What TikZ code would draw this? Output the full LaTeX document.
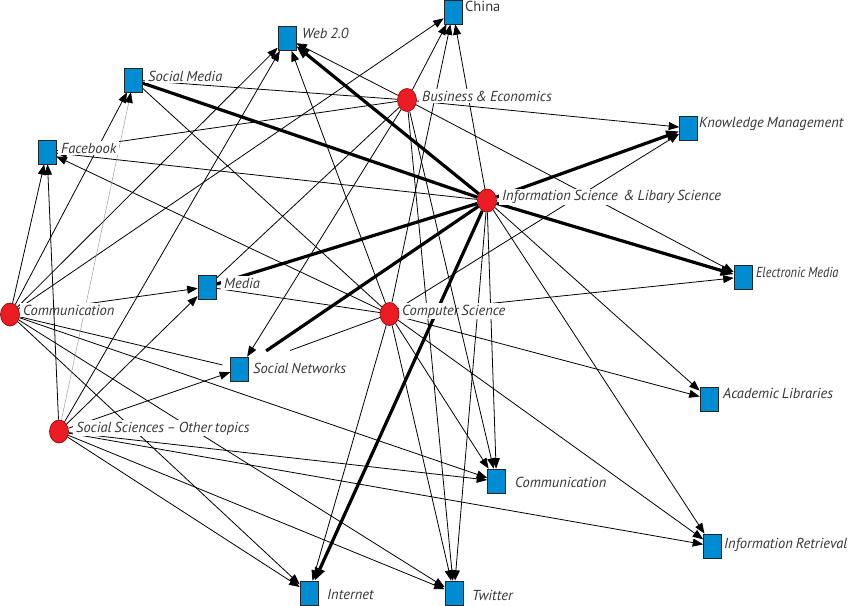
\documentclass[tikz,border=0pt]{standalone}
\usepackage{fontspec}
\setmainfont{PT Sans}
\usetikzlibrary{shapes.geometric,arrows.meta}
\definecolor{sqblue}{RGB}{0,140,210}
\definecolor{cired}{RGB}{236,28,36}
\definecolor{labgray}{RGB}{55,55,55}
\pgfdeclarelayer{bg}
\pgfdeclarelayer{lab}
\pgfsetlayers{bg,lab,main}
\newcommand{\labfont}{\fontsize{14.5}{16}\selectfont\itshape\spaceskip=0.2em plus 0.05em}
\tikzset{
  sq/.style={rectangle,draw=black!85,line width=0.6pt,fill=sqblue,minimum width=18pt,minimum height=24pt,inner sep=0pt},
  ci/.style={ellipse,draw=red!55!black,line width=0.6pt,fill=cired,minimum width=19pt,minimum height=23pt,inner sep=0pt},
  lab/.style={fill=white,inner xsep=3pt,inner ysep=1.5pt,anchor=base west,xshift=-3pt,font=\labfont,text=labgray},
  ln/.style={line width=0.8pt,-{Triangle[length=10.5pt,width=8pt]}},
  nl/.style={line width=0.8pt},
  gl/.style={line width=0.4pt,draw=black!45,-{Triangle[length=10.5pt,width=8pt,color=black]}},
  tk/.style={line width=3.2pt,-{Triangle[length=13pt,width=10pt]}},
  tkn/.style={line width=3.2pt},
}
\begin{document}
\begin{tikzpicture}[x=1pt,y=-1pt]
\useasboundingbox (0,0) rectangle (850,605);
\begin{pgfonlayer}{bg}
\fill[white] (0,0) rectangle (850,605);
\end{pgfonlayer}
% keyword squares
\node[sq] (China) at (453,12) {};
\node[sq] (Web) at (287,38.5) {};
\node[sq] (SMed) at (133.5,80) {};
\node[sq] (Fb) at (47,152) {};
\node[sq] (KM) at (688.5,128) {};
\node[sq] (EM) at (743,277) {};
\node[sq] (Media) at (207,287) {};
\node[sq] (SN) at (239.5,369) {};
\node[sq] (AL) at (709,399) {};
\node[sq] (CSq) at (496.5,481) {};
\node[sq] (IR) at (712.5,546) {};
\node[sq] (Inet) at (309,593) {};
\node[sq] (Tw) at (454,593) {};
% subject circles
\node[ci] (BE) at (407,100) {};
\node[ci] (IS) at (487,200.5) {};
\node[ci] (CS) at (389.5,314) {};
\node[ci] (Cc) at (10,314.5) {};
\node[ci] (SS) at (59,431.5) {};
\begin{pgfonlayer}{bg}
\foreach \s/\t in {Cc/China,Cc/Web,Cc/SMed,Cc/Fb,Cc/Media,Cc/CSq,Cc/Tw,Cc/Inet,
  SS/Web,SS/Media,SS/SN,SS/CSq,SS/IR,SS/Tw,SS/Inet,
  BE/China,BE/Web,BE/SN,BE/KM,BE/EM,BE/Tw,
  IS/China,IS/Fb,IS/AL,IS/CSq,IS/IR,IS/Tw,
  CS/China,CS/Web,CS/Fb,CS/KM,CS/EM,CS/AL,CS/CSq,CS/IR,CS/Tw,CS/Inet}
  \draw[ln] (\s) -- (\t);
\foreach \s/\t in {BE/SMed,BE/Fb,BE/Media,CS/Media,CS/SMed}
  \draw[nl] (\s) -- (\t);
\draw[nl,shorten >=44pt] (CS) -- (SN);
\draw[nl,shorten >=8pt] (Cc) -- (SN);
\draw[gl] (SS) -- (SMed);
\foreach \t in {Web,KM,EM,Inet}
  \draw[tk] (IS) -- (\t);
\foreach \t in {SMed,Media}
  \draw[tkn] (IS) -- (\t);
\draw[tkn,shorten >=21pt] (IS) -- (SN);
\end{pgfonlayer}
\begin{pgfonlayer}{lab}
\node[lab,font=\fontsize{14.5}{16}\selectfont] (lChina) at (465,12) {China};
\node[lab] (lWeb) at (302,38) {Web 2.0};
\node[lab] (lSMed) at (148,81) {Social Media};
\node[lab] (lFb) at (61,153) {Facebook};
\node[lab] (lBE) at (422,101) {Business \& Economics};
\node[lab] (lKM) at (699,127) {Knowledge Management};
\node[lab] (lIS) at (502,200.5) {Information Science\ \ \& Libary Science};
\node[lab] (lEM) at (756,277) {\scalebox{0.85}[1]{Electronic Media}};
\node[lab] (lMedia) at (224,288) {Media};
\node[lab] (lCc) at (23,315) {Communication};
\node[lab] (lCS) at (402,315) {Computer Science};
\node[lab] (lSN) at (253,373) {Social Networks};
\node[lab] (lAL) at (723,398) {Academic Libraries};
\node[lab] (lSS) at (76,432) {Social Sciences – Other topics};
\node[lab] (lCSq) at (515,487) {Communication};
\node[lab] (lIR) at (724,548) {Information Retrieval};
\node[lab] (lInet) at (327,599) {Internet};
\node[lab] (lTw) at (472,600) {Twitter};
\draw[ln] (SS) -- (Fb);
\draw[ln] (BE) -- (CSq);
\end{pgfonlayer}
\end{tikzpicture}
\end{document}
